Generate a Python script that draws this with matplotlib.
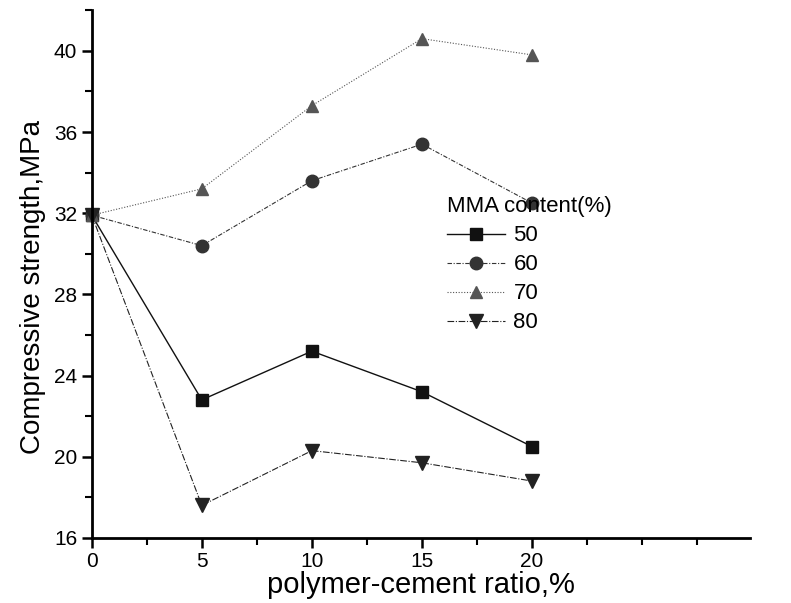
import numpy as np
import matplotlib.pyplot as plt
from matplotlib.ticker import MultipleLocator

plt.rcParams['font.family'] = ['Liberation Sans', 'DejaVu Sans']

ratio = [0, 5, 10, 15, 20]
mma_50 = [31.9, 22.8, 25.2, 23.2, 20.5]
mma_60 = [31.9, 30.4, 33.6, 35.4, 32.5]
mma_70 = [31.9, 33.2, 37.3, 40.6, 39.8]
mma_80 = [31.9, 17.6, 20.3, 19.7, 18.8]
labels = ['50', '60', '70', '80']

fig = plt.figure(figsize=(7.91, 6.03), dpi=100)
ax = fig.add_axes([0.116, 0.108, 0.832, 0.875])

ax.plot(ratio, mma_50, color='#111111', lw=1.0, ls='-', marker='s', ms=8, label=labels[0], clip_on=False)
ax.plot(ratio, mma_60, color='#333333', lw=0.8, ls=(0, (4, 1.5, 1, 1.5)), marker='o', ms=9, label=labels[1], clip_on=False)
ax.plot(ratio, mma_70, color='#555555', lw=0.8, ls=(0, (1, 1.5)), marker='^', ms=9, label=labels[2], clip_on=False)
ax.plot(ratio, mma_80, color='#222222', lw=0.8, ls=(0, (6, 1.5, 1, 1.5)), marker='v', ms=10, label=labels[3], clip_on=False)

ax.set_xlim(0, 29.9)
ax.set_ylim(16, 42)
ax.xaxis.set_minor_locator(MultipleLocator(2.5))
ax.yaxis.set_major_locator(MultipleLocator(4))
ax.yaxis.set_minor_locator(MultipleLocator(2))
ax.set_xticks([0, 5, 10, 15, 20])
ax.set_xticklabels(['0', '5', '10', '15', '20'])

for s in ['top', 'right']:
    ax.spines[s].set_visible(False)
for s in ['left', 'bottom']:
    ax.spines[s].set_linewidth(2)
ax.tick_params(which='major', length=7, width=1.8, labelsize=15)
ax.tick_params(which='minor', length=5, width=1.5)

ax.set_xlabel('polymer-cement ratio,%', fontsize=21, labelpad=0)
ax.set_ylabel('Compressive strength,MPa', fontsize=20, labelpad=8)
ax.yaxis.set_label_coords(-0.07, 0.475)

ax.legend(title='MMA content(%)', loc='upper left', bbox_to_anchor=(0.509, 0.685),
          frameon=False, fontsize=16, title_fontsize=16, handlelength=2.6,
          handletextpad=0.4, labelspacing=0.36, alignment='left')

fig.savefig('out.png', dpi=100)
